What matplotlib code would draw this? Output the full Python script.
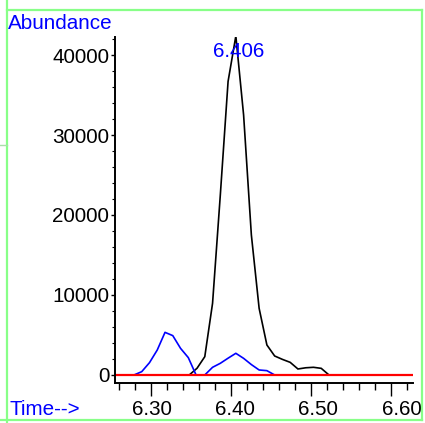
import matplotlib
matplotlib.use("Agg")
import matplotlib.pyplot as plt
from matplotlib.lines import Line2D
from matplotlib.ticker import FixedLocator, MultipleLocator
import matplotlib.transforms as mtransforms
import numpy as np

# ---- data ----
black_time = [6.2550, 6.3478, 6.3575, 6.3672, 6.3769, 6.3866, 6.3963, 6.4060,
              6.4157, 6.4254, 6.4351, 6.4448, 6.4545, 6.4642, 6.4739, 6.4836,
              6.4933, 6.5030, 6.5127, 6.5224, 6.6270]
black_abund = [0, 0, 840, 2290, 8960, 22500, 36700, 42380,
               32500, 17500, 8330, 3750, 2375, 1950, 1580, 750,
               900, 960, 830, 0, 0]

blue_time = [6.2550, 6.2787, 6.2884, 6.2981, 6.3078, 6.3175, 6.3272, 6.3369,
             6.3466, 6.3563, 6.3672, 6.3769, 6.3866, 6.3963, 6.4060, 6.4157,
             6.4254, 6.4351, 6.4448, 6.4545, 6.6270]
blue_abund = [0, 0, 415, 1540, 3125, 5330, 4920, 3330,
              2170, 0, 0, 960, 1460, 2100, 2710, 2080,
              1300, 625, 540, 0, 0]

red_time = [6.2550, 6.6270]
red_abund = [0, 0]

peak_time = 6.406
peak_abund = 42380
peak_label = "6.406"

x_major = [6.30, 6.40, 6.50, 6.60]
x_major_labels = ["6.30", "6.40", "6.50", "6.60"]
y_major = [0, 10000, 20000, 30000, 40000]
y_major_labels = ["0", "10000", "20000", "30000", "40000"]

# ---- figure ----
W, H = 425, 423
fig = plt.figure(figsize=(W / 100, H / 100), dpi=100)
plt.rcParams['font.family'] = ['Liberation Sans', 'DejaVu Sans']
FS = 14.9

left, right, top, bottom = 115, 412.7, 36.7, 383.3
ax = fig.add_axes([left / W, 1 - bottom / H, (right - left) / W, (bottom - top) / H])
ax.set_xlim(6.2550, 6.6270)
ax.set_ylim(-1040, 42290)

ax.plot(black_time, black_abund, color='black', lw=1.2, solid_joinstyle='miter')
ax.plot(blue_time, blue_abund, color='#0000ff', lw=1.2)
ax.plot(red_time, red_abund, color='#ff0000', lw=1.6)

for s in ['top', 'right']:
    ax.spines[s].set_visible(False)
for s in ['left', 'bottom']:
    ax.spines[s].set_linewidth(1.4)

ax.xaxis.set_major_locator(FixedLocator(x_major))
ax.set_xticklabels(x_major_labels, fontsize=FS)
ax.xaxis.set_minor_locator(MultipleLocator(0.02))
ax.tick_params(axis='x', which='major', length=9.5, width=1.0, pad=2.5, direction='out')
ax.tick_params(axis='x', which='minor', length=5, width=1.0, direction='out')

ax.yaxis.set_major_locator(FixedLocator(y_major))
ax.set_yticklabels(y_major_labels, fontsize=FS)
ax.yaxis.set_minor_locator(MultipleLocator(2000))
ax.tick_params(axis='y', which='major', length=3, width=1.0, pad=1.2, direction='out')
ax.tick_params(axis='y', which='minor', length=2.5, width=0.8, direction='out')

# labels in the original are spread slightly wider than the tick marks
stretch = (mtransforms.Affine2D().translate(-151, 0).scale(83.3 / 80.0, 1.0)
           .translate(151.7, 0))
for lab in ax.get_xticklabels():
    lab.set_transform(lab.get_transform() + stretch)

ax.annotate(peak_label, xy=(peak_time, peak_abund), xytext=(3, -20.7),
            textcoords='offset pixels', ha='center', va='baseline',
            color='#0000ff', fontsize=FS, annotation_clip=False)

fig.text(8.3 / W, 1 - 29.3 / H, "Abundance", color='#0000ff', fontsize=FS,
         ha='left', va='baseline')
fig.text(9 / W, 1 - 415 / H, "Time-->", color='#0000ff', fontsize=FS,
         ha='left', va='baseline')

# green frame
g = '#88ff88'
def pline(x0, y0, x1, y1, c=g, lw=1.6):
    fig.add_artist(Line2D([x0 / W, x1 / W], [1 - y0 / H, 1 - y1 / H],
                          transform=fig.transFigure, color=c, lw=lw))
pline(7.3, 0, 7.3, 423)
pline(7.3, 10, 422, 10)
pline(422, 10, 422, 420)
pline(0, 420, 422, 420)
pline(0, 145, 7.3, 145, c='#a8e0a8', lw=1.0)

fig.savefig("out.png", dpi=100)
